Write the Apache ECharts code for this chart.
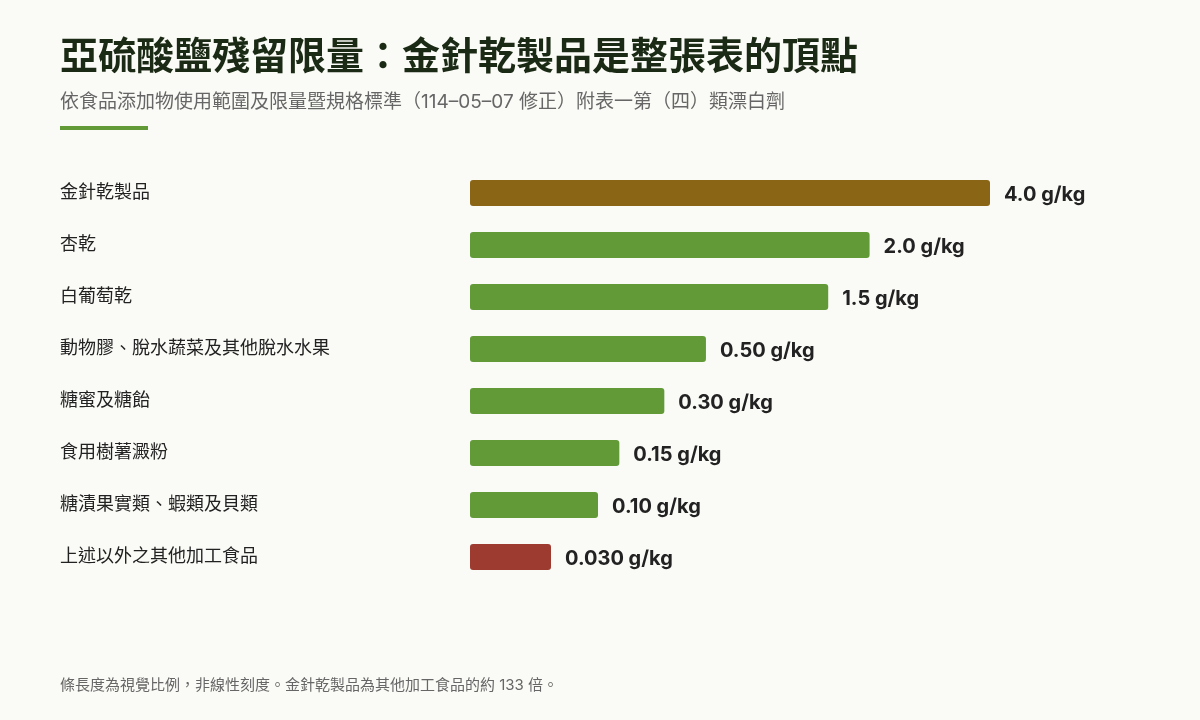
<!DOCTYPE html>
<html lang="zh-Hant">
<head>
<meta charset="utf-8" />
<title>亞硫酸鹽殘留限量</title>
<script src="https://cdn.jsdelivr.net/npm/echarts@6/dist/echarts.min.js"></script>
<style>
  html, body { margin: 0; padding: 0; background: #fafaf6; }
  #main { width: 1200px; height: 720px; }
</style>
</head>
<body>
<div id="main"></div>
<script>
  // 食品類別（由上而下）
  var categories = ['金針乾製品', '杏乾', '白葡萄乾', '動物膠、脫水蔬菜及其他脫水水果', '糖蜜及糖飴', '食用樹薯澱粉', '糖漬果實類、蝦類及貝類', '上述以外之其他加工食品'];
  // 限量 (g/kg)
  var limits = [4.0, 2.0, 1.5, 0.50, 0.30, 0.15, 0.10, 0.030];
  var limitLabels = ['4.0 g/kg', '2.0 g/kg', '1.5 g/kg', '0.50 g/kg', '0.30 g/kg', '0.15 g/kg', '0.10 g/kg', '0.030 g/kg'];

  // 視覺比例：非線性
  var EXP = 0.38;
  function visual(v) { return Math.pow(v, EXP); }

  var font = "Inter, 'Noto Sans CJK TC', sans-serif";

  var barData = limits.map(function (v, i) {
    var color = '#629a38';
    if (i === 0) color = '#8a6516';
    if (i === limits.length - 1) color = '#9e3b30';
    return { value: visual(v), itemStyle: { color: color } };
  });

  var chart = echarts.init(document.getElementById('main'));
  var option = {
    backgroundColor: '#fafaf6',
    animation: false,
    title: [{
      text: '亞硫酸鹽殘留限量：金針乾製品是整張表的頂點',
      left: 60, top: 39, padding: 0,
      textStyle: { fontFamily: font, fontSize: 38, fontWeight: 'bold', color: '#1b2a14' }
    }, {
      text: '依食品添加物使用範圍及限量暨規格標準（114–05–07 修正）附表一第（四）類漂白劑',
      left: 60, top: 93, padding: 0,
      textStyle: { fontFamily: font, fontSize: 19, fontWeight: 'normal', color: '#666666' }
    }, {
      text: '條長度為視覺比例，非線性刻度。金針乾製品為其他加工食品的約 133 倍。',
      left: 60, top: 678, padding: 0,
      textStyle: { fontFamily: font, fontSize: 15, fontWeight: 'normal', color: '#666666' }
    }],
    graphic: [{
      type: 'rect',
      shape: { x: 60, y: 126, width: 88, height: 4 },
      style: { fill: '#629a38' }
    }],
    grid: { left: 470, right: 210, top: 167, bottom: 137 },
    xAxis: {
      type: 'value',
      min: 0,
      max: visual(limits[0]),
      show: false
    },
    yAxis: {
      type: 'category',
      data: categories,
      inverse: true,
      axisLine: { show: false },
      axisTick: { show: false },
      axisLabel: {
        align: 'left',
        margin: 410,
        padding: [4, 0, 0, 0],
        fontFamily: font,
        fontSize: 18,
        color: '#222222'
      }
    },
    series: [{
      type: 'bar',
      data: barData,
      barWidth: 26,
      itemStyle: { borderRadius: 3 },
      label: {
        show: true,
        position: 'right',
        distance: 14,
        offset: [0, 2],
        fontFamily: font,
        fontSize: 20,
        fontWeight: 'bold',
        color: '#222222',
        formatter: function (p) { return limitLabels[p.dataIndex]; }
      }
    }]
  };
  chart.setOption(option);
</script>
</body>
</html>
